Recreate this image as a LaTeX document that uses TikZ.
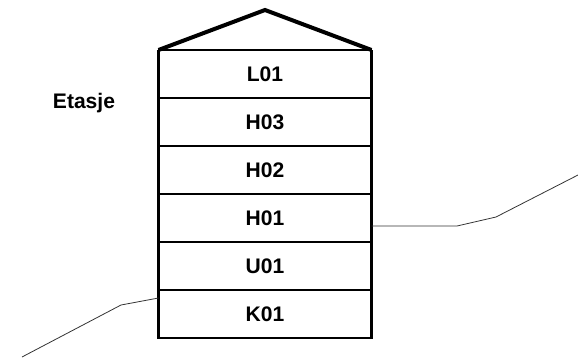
\documentclass[tikz,border=0pt]{standalone}
\usepackage{fontspec}
\setmainfont{Liberation Sans}
\usetikzlibrary{positioning}

\begin{document}
\begin{tikzpicture}[x=0.75pt,y=-0.75pt,
    floorbox/.style={draw,line width=1.1pt,minimum width=159.75pt,minimum height=36pt,
        inner sep=0pt,outer sep=0pt,font=\fontsize{15.8}{17}\selectfont\bfseries},
    wall/.style={line width=1.6pt},
    roofline/.style={line width=3pt,line join=miter},
    ground/.style={line width=0.6pt,black!80}]
        \useasboundingbox (0,0) rectangle (578,358);
        % Stack the floors
        \node[floorbox] (L01) at (265,74) {L01};
        \node[floorbox,below=0pt of L01] (H03) {H03};
        \node[floorbox,below=0pt of H03] (H02) {H02};
        \node[floorbox,below=0pt of H02] (H01) {H01};
        \node[floorbox,below=0pt of H01] (U01) {U01};
        \node[floorbox,below=0pt of U01] (K01) {K01};
        % Outer walls and roof
        \draw[wall] (L01.north west) -- (K01.south west) -- (K01.south east) -- (L01.north east);
        \coordinate (apex) at (265,10);
        \draw[roofline] (L01.north west) -- (apex) -- (L01.north east);
        % Label
        \node[font=\fontsize{15.8}{17}\selectfont\bfseries] (etasje) at (84,103) {Etasje};
        % Terrain on both sides
        \coordinate (gl1) at (22,357);
        \coordinate (gl2) at (121,305);
        \coordinate (gl3) at (K01.west |- 0,298);
        \draw[ground] (gl1) -- (gl2) -- (gl3);
        \coordinate (gr1) at (H01.east |- 0,226);
        \coordinate (gr2) at (457,226);
        \coordinate (gr3) at (496,217);
        \coordinate (gr4) at (578,175);
        \draw[ground] (gr1) -- (gr2) -- (gr3) -- (gr4);
    \end{tikzpicture}
\end{document}
